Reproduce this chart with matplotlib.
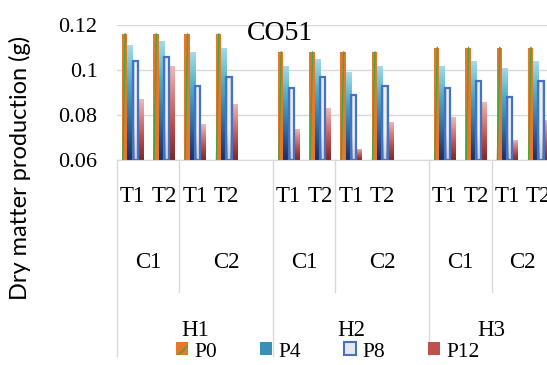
import numpy as np
import matplotlib.pyplot as plt
from matplotlib.colors import LinearSegmentedColormap, to_rgb
from matplotlib.patches import Patch
from matplotlib.transforms import blended_transform_factory

# category levels
h_labels = ['H1', 'H2', 'H3']
c_labels = ['C1', 'C2']
t_labels = ['T1', 'T2']
series = ['P0', 'P4', 'P8', 'P12']

# values in order H1C1T1, H1C1T2, H1C2T1, H1C2T2, H2..., H3...
p0 = [0.116, 0.116, 0.116, 0.116, 0.108, 0.108, 0.108, 0.108, 0.110, 0.110, 0.110, 0.110]
p4 = [0.111, 0.113, 0.108, 0.110, 0.102, 0.105, 0.099, 0.102, 0.102, 0.104, 0.101, 0.104]
p8 = [0.104, 0.106, 0.093, 0.097, 0.092, 0.097, 0.089, 0.093, 0.092, 0.095, 0.088, 0.095]
p12 = [0.087, 0.102, 0.076, 0.085, 0.074, 0.083, 0.065, 0.077, 0.079, 0.086, 0.069, 0.078]
values = [p0, p4, p8, p12]

serif = 'Liberation Serif'
plt.rcParams['font.family'] = [serif, 'DejaVu Serif']
grid_col = '#d9d9d9'
orange = '#e8762b'
green = '#3daa3d'

cmaps = [
    None,
    LinearSegmentedColormap.from_list('p4', ['#1c2f66', '#2f6fa3', '#4bacc6', '#a3dbe8']),
    None,
    LinearSegmentedColormap.from_list('p12', ['#7e2a28', '#b84845', '#d77d7a', '#f0b9b7']),
]

# P8 fill: white centre stripe, grey-blue sides, darkening to navy at the bottom
yy, xx = np.mgrid[0:1:64j, -1:1:16j]
edge = np.array(to_rgb('#9fb0cc'))
navy = np.array(to_rgb('#1f3864'))
side = np.abs(xx)[..., None]
p8_img = (1 - side) * np.ones(3) + side * edge
dark = (np.clip(0.35 - yy, 0, None) / 0.35)[..., None] * side * 0.9
p8_img = p8_img * (1 - dark) + navy * dark

# each H block has 5 slots (4 bars + 1 empty), last block is cut after 4
slots_per_h = 5
n_slots = len(h_labels) * slots_per_h - 1
slot = [h * slots_per_h + c * 2 + t
        for h in range(len(h_labels)) for c in range(len(c_labels)) for t in range(len(t_labels))]
slot = np.array(slot)

fig = plt.figure(figsize=(5.47, 3.65), dpi=100)
ax_left, ax_bottom = 117 / 547, 1 - 160 / 365
ax = fig.add_axes([ax_left, ax_bottom, 437 / 547, 135 / 365])

ymin, ymax = 0.06, 0.12
w = 0.17
grad = np.linspace(0, 1, 64).reshape(-1, 1)
for k, vals in enumerate(values):
    xs = slot + (k - 1.5) * w
    heights = np.array(vals) - ymin
    if k == 0:
        bars = ax.bar(xs, heights, w, bottom=ymin, color=orange, zorder=2)
        for r in bars:
            x0, bw, top = r.get_x(), r.get_width(), r.get_y() + r.get_height()
            ax.plot([x0 + 0.15 * bw, x0 + 0.6 * bw], [ymin, top], color=green, lw=1, zorder=3)
        continue
    bars = ax.bar(xs, heights, w, bottom=ymin, color='none', zorder=2)
    for r in bars:
        x0, bw, top = r.get_x(), r.get_width(), r.get_y() + r.get_height()
        if k == 2:
            im = ax.imshow(p8_img, origin='lower', aspect='auto',
                           extent=(x0, x0 + bw, ymin, top), interpolation='bilinear', zorder=2)
        else:
            im = ax.imshow(grad, cmap=cmaps[k], origin='lower', aspect='auto',
                           extent=(x0, x0 + bw, ymin, top), interpolation='bilinear', zorder=2)
        im.set_clip_path(r)
    if k == 2:
        ax.bar(xs, heights, w, bottom=ymin, facecolor='none', edgecolor='#4472c4', lw=1.6, zorder=3)

ax.set_xlim(-0.5, n_slots - 0.5)
ax.set_ylim(ymin, ymax)
ax.set_yticks([0.06, 0.08, 0.1, 0.12])
ax.set_yticklabels(['0.06', '0.08', '0.1', '0.12'], fontfamily=serif, fontsize=16)
ax.tick_params(axis='y', length=0, pad=14)
ax.set_xticks([])
ax.yaxis.grid(True, color=grid_col, lw=1)
ax.set_axisbelow(True)
for s in ['top', 'right', 'left']:
    ax.spines[s].set_visible(False)
ax.spines['bottom'].set_color(grid_col)

# multi-level category axis
trans = blended_transform_factory(ax.transData, fig.transFigure)
for i, s in enumerate(slot):
    ax.text(s, 1 - 197 / 365, t_labels[i % 2], transform=trans, ha='center', va='center',
            fontfamily=serif, fontsize=16.5)
for h, hl in enumerate(h_labels):
    start = h * slots_per_h - 0.5
    end = min(start + slots_per_h, n_slots - 0.5)
    mid = start + 2
    ax.text((start + mid) / 2, 1 - 263 / 365, c_labels[0], transform=trans, ha='center', va='center',
            fontfamily=serif, fontsize=16.5)
    ax.text((mid + end) / 2, 1 - 263 / 365, c_labels[1], transform=trans, ha='center', va='center',
            fontfamily=serif, fontsize=16.5)
    ax.text((start + end) / 2, 1 - 331 / 365, hl, transform=trans, ha='center', va='center',
            fontfamily=serif, fontsize=16.5)
    ax.plot([start, start], [ax_bottom, 1 - 356 / 365], transform=trans, color=grid_col, lw=1, clip_on=False)
    ax.plot([mid, mid], [ax_bottom, 1 - 292 / 365], transform=trans, color=grid_col, lw=1, clip_on=False)

fig.text(20 / 547, 1 - 168 / 365, 'Dry matter production (g)', rotation=90, ha='center', va='center',
         fontfamily='Lato', fontsize=17)
fig.text(280 / 547, 1 - 34 / 365, 'CO51', ha='center', va='center', fontfamily=serif, fontsize=20)

handles = [
    Patch(facecolor=orange, edgecolor=green, hatch='/', lw=0),
    Patch(facecolor='#3a8fb8'),
    Patch(facecolor='#e6e8ee', edgecolor='#4472c4', lw=1.5),
    Patch(facecolor='#c0504d'),
]
fig.legend(handles, series, loc='center', bbox_to_anchor=(328 / 547, 1 - 352 / 365), ncol=4,
           frameon=False, prop={'family': serif, 'size': 15.5}, handlelength=0.55, handleheight=0.55,
           handletextpad=0.3, columnspacing=2.0, borderpad=0)

fig.savefig('out.png', dpi=100)
